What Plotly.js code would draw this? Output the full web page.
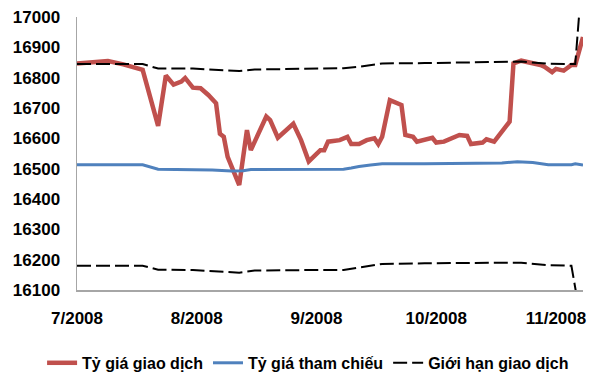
<!DOCTYPE html>
<html>
<head>
<meta charset="utf-8">
<script src="https://cdn.plot.ly/plotly-3.0.1.min.js"></script>
<style>html,body{margin:0;padding:0;background:#fff;}#chart{width:600px;height:382px;}</style>
</head>
<body>
<div id="chart"></div>
<script>
// Day index since 1 Jul 2008 (category-like spacing, 31 per month label)
const tickDays = [0, 31, 62, 93, 124];
const tickLabels = ["7/2008", "8/2008", "9/2008", "10/2008", "11/2008"];

// Tỷ giá giao dịch (interbank transaction rate)
const tradeDays = [0,4,8,12,15,17,21,23,25,27,28,30,32,34,36,37,38,39,42,44,45,49,50,52,56,58,60,63,64,65,68,70,71,73,75,77,78,79,81,84,85,87,88,92,93,95,99,101,102,105,106,108,112,113,115,118,120,121,123,124,126,128,129,131];
const tradeRate = [16847,16850,16855,16844,16833,16826,16641,16807,16777,16787,16799,16767,16765,16743,16716,16615,16605,16539,16446,16627,16561,16672,16660,16602,16648,16594,16524,16561,16561,16589,16594,16605,16581,16581,16594,16600,16581,16605,16726,16710,16611,16605,16589,16602,16586,16589,16611,16608,16581,16586,16597,16589,16655,16847,16856,16849,16842,16836,16818,16829,16823,16842,16842,16934];

// Tỷ giá tham chiếu (reference rate)
const refDays = [0,17,21,30,35,40,43,45,50,60,69,71,73,76,79,90,100,110,114,118,122,128,129,131];
const refRate = [16513,16513,16498,16497,16496,16492,16493,16497,16497,16497,16498,16502,16507,16512,16516,16516,16518,16519,16523,16520,16513,16513,16516,16512];

// Giới hạn giao dịch (trading band limits)
const upperDays = [0,17,21,30,38,42,46,55,62,69,73,79,90,100,110,115,122,129,131];
const upperLimit = [16845,16845,16830,16830,16824,16822,16827,16829,16831,16831,16836,16847,16848,16849,16852,16853,16846,16845,17170];
const lowerDays = [0,17,21,30,38,42,46,55,62,69,73,79,90,100,110,115,122,128,131];
const lowerLimit = [16180,16180,16167,16166,16160,16157,16164,16166,16166,16166,16175,16186,16188,16190,16190,16190,16182,16180,15960];

const seriesNames = ["Tỷ giá giao dịch", "Tỷ giá tham chiếu", "Giới hạn giao dịch"];

const FONT = "Liberation Sans, Arial, sans-serif";

const traces = [
  {x: tradeDays, y: tradeRate, name: seriesNames[0], type: "scatter", mode: "lines",
   line: {color: "#C0504D", width: 4.5}},
  {x: refDays, y: refRate, name: seriesNames[1], type: "scatter", mode: "lines",
   line: {color: "#4F81BD", width: 3}},
  {x: upperDays, y: upperLimit, name: seriesNames[2], type: "scatter", mode: "lines",
   line: {color: "#000000", width: 2, dash: "14px,5px"}, legendgroup: "lim"},
  {x: lowerDays, y: lowerLimit, name: seriesNames[2], type: "scatter", mode: "lines",
   line: {color: "#000000", width: 2, dash: "14px,5px"}, legendgroup: "lim", showlegend: false}
];

const layout = {
  width: 600, height: 382,
  margin: {l: 77, r: 17, t: 17, b: 92, autoexpand: false},
  paper_bgcolor: "#ffffff", plot_bgcolor: "#ffffff",
  font: {family: FONT, color: "#000"},
  showlegend: true,
  legend: {
    orientation: "h",
    x: -0.069, xanchor: "left", y: -0.267, yanchor: "middle",
    font: {family: FONT, size: 16, weight: "bold", color: "#000"},
    itemgap: 13, tracegroupgap: 0
  },
  xaxis: {
    range: [0, 131], tickmode: "array", tickvals: tickDays, ticktext: tickLabels,
    showgrid: false, zeroline: false, showline: true, linecolor: "#a6a6a6", linewidth: 1.5,
    ticks: "", ticklabelstandoff: 12,
    tickfont: {family: FONT, size: 17, weight: "bold", color: "#000"}
  },
  yaxis: {
    range: [16100, 17000], dtick: 100, tick0: 16100, tickformat: "d",
    showgrid: false, zeroline: false, showline: true, linecolor: "#a6a6a6", linewidth: 1.5,
    ticks: "", ticklabelstandoff: 12,
    tickfont: {family: FONT, size: 17, weight: "bold", color: "#000"}
  }
};

Plotly.newPlot("chart", traces, layout, {displayModeBar: false, staticPlot: true});
</script>
</body>
</html>
